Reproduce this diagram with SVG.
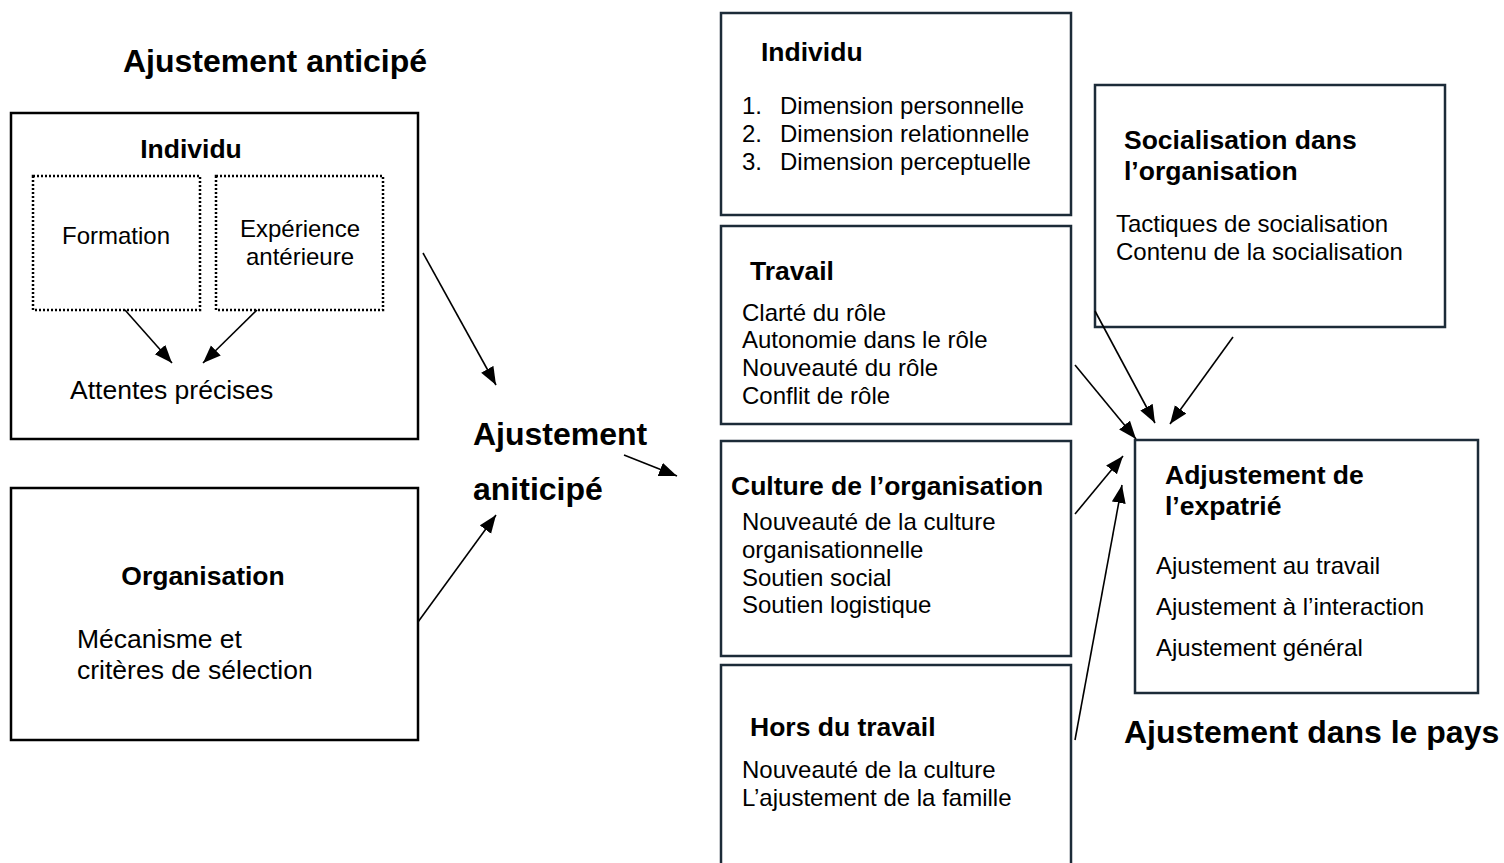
<svg xmlns="http://www.w3.org/2000/svg" width="1504" height="863" viewBox="0 0 1504 863">
<style>
text{font-family:"Liberation Sans",Arial,sans-serif;fill:#000}
.b{font-weight:bold;font-size:26.5px}
.t{font-size:26.5px}
.f{font-size:24px}
.h{font-size:32px;font-weight:bold}
.s{font-size:24px}
.box{fill:#fff;stroke:#000;stroke-width:2.5}
.nbox{fill:#fff;stroke:#1c2b38;stroke-width:2.5}
.dot{fill:none;stroke:#000;stroke-width:2.5;stroke-dasharray:2 2}
.c{stroke:#000;stroke-width:1.6;fill:none;marker-end:url(#ah)}
</style>
<defs>
<marker id="ah" markerUnits="userSpaceOnUse" markerWidth="20" markerHeight="16" refX="18" refY="7" orient="auto">
<path d="M0,0 L18,7 L0,14 z" fill="#000"/>
</marker>
</defs>
<rect width="1504" height="863" fill="#fff"/>
<text class="h" x="123" y="72">Ajustement anticipé</text>
<g id="n-individu-left">
<rect class="box" x="11" y="113" width="407" height="326"/>
<text class="b" x="191" y="158" text-anchor="middle">Individu</text>
<rect class="dot" x="33" y="176" width="167" height="134"/>
<text class="f" x="116" y="244" text-anchor="middle">Formation</text>
<rect class="dot" x="216" y="176" width="167" height="134"/>
<text class="f" x="300" y="237" text-anchor="middle">Expérience</text>
<text class="f" x="300" y="265" text-anchor="middle">antérieure</text>
<text class="t" x="70" y="399">Attentes précises</text>
</g>
<g id="n-organisation">
<rect class="box" x="11" y="488" width="407" height="252"/>
<text class="b" x="203" y="585" text-anchor="middle">Organisation</text>
<text class="t" x="77" y="648">Mécanisme et</text>
<text class="t" x="77" y="679">critères de sélection</text>
</g>
<g id="n-ajust-anticipe">
<text class="h" x="473" y="445">Ajustement</text>
<text class="h" x="473" y="500">aniticipé</text>
</g>
<g id="n-individu-right">
<rect class="nbox" x="721" y="13" width="350" height="202"/>
<text class="b" x="761" y="61">Individu</text>
<text class="s" x="742" y="114">1.</text><text class="s" x="780" y="114">Dimension personnelle</text>
<text class="s" x="742" y="142">2.</text><text class="s" x="780" y="142">Dimension relationnelle</text>
<text class="s" x="742" y="170">3.</text><text class="s" x="780" y="170">Dimension perceptuelle</text>
</g>
<g id="n-travail">
<rect class="nbox" x="721" y="226" width="350" height="198"/>
<text class="b" x="750" y="280">Travail</text>
<text class="s" x="742" y="321">Clarté du rôle</text>
<text class="s" x="742" y="348">Autonomie dans le rôle</text>
<text class="s" x="742" y="376">Nouveauté du rôle</text>
<text class="s" x="742" y="404">Conflit de rôle</text>
</g>
<g id="n-culture">
<rect class="nbox" x="721" y="441" width="350" height="215"/>
<text class="b" x="731" y="495">Culture de l’organisation</text>
<text class="s" x="742" y="530">Nouveauté de la culture</text>
<text class="s" x="742" y="558">organisationnelle</text>
<text class="s" x="742" y="586">Soutien social</text>
<text class="s" x="742" y="613">Soutien logistique</text>
</g>
<g id="n-hors">
<rect class="nbox" x="721" y="665" width="350" height="210"/>
<text class="b" x="750" y="736">Hors du travail</text>
<text class="s" x="742" y="778">Nouveauté de la culture</text>
<text class="s" x="742" y="806">L’ajustement de la famille</text>
</g>
<g id="n-socialisation">
<rect class="nbox" x="1095" y="85" width="350" height="242"/>
<text class="b" x="1124" y="149">Socialisation dans</text>
<text class="b" x="1124" y="180">l’organisation</text>
<text class="s" x="1116" y="232">Tactiques de socialisation</text>
<text class="s" x="1116" y="260">Contenu de la socialisation</text>
</g>
<g id="n-expatrie">
<rect class="nbox" x="1135" y="440" width="343" height="253"/>
<text class="b" x="1165" y="484">Adjustement de</text>
<text class="b" x="1165" y="515">l’expatrié</text>
<text class="s" x="1156" y="574">Ajustement au travail</text>
<text class="s" x="1156" y="615">Ajustement à l’interaction</text>
<text class="s" x="1156" y="656">Ajustement général</text>
</g>
<text class="h" x="1124" y="743">Ajustement dans le pays</text>
<g id="connectors">
<line class="c" x1="125" y1="310" x2="172" y2="363"/>
<line class="c" x1="257" y1="310" x2="203" y2="363"/>
<line class="c" x1="423" y1="253" x2="496" y2="385"/>
<line class="c" x1="418" y1="622" x2="496" y2="515"/>
<line class="c" x1="624" y1="455" x2="677" y2="476"/>
<line class="c" x1="1095" y1="311" x2="1155" y2="423"/>
<line class="c" x1="1233" y1="337" x2="1170" y2="424"/>
<line class="c" x1="1075" y1="365" x2="1136" y2="439"/>
<line class="c" x1="1075" y1="514" x2="1123" y2="456"/>
<line class="c" x1="1075" y1="740" x2="1122" y2="485"/>
</g>
</svg>
